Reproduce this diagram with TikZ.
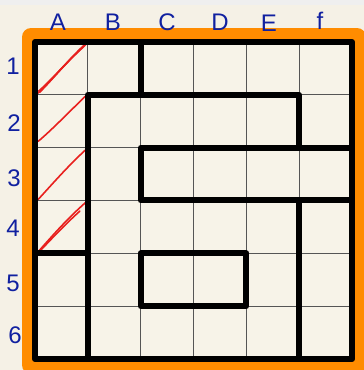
\documentclass[tikz,border=0pt]{standalone}
\usepackage{fontspec}
\setmainfont{Liberation Sans}
\begin{document}
\begin{tikzpicture}[x=1pt,y=-1pt,
  lbl/.style={text=labelblue,font=\fontsize{24}{24}\selectfont,inner sep=0pt},
  thin grid/.style={draw=gridgray,line width=1.1pt},
  wall/.style={draw=black,line width=6pt,line cap=round,line join=round},
  tick/.style={draw=tickred,line width=1.6pt,line cap=round}]
\definecolor{bgcream}{HTML}{F5F1E6}
\definecolor{cellcream}{HTML}{F7F3E8}
\definecolor{framebg}{HTML}{FF8C00}
\definecolor{gridgray}{HTML}{555555}
\definecolor{labelblue}{HTML}{1020A0}
\definecolor{tickred}{HTML}{E8201E}
\definecolor{topstrip}{HTML}{EFEFEF}
\useasboundingbox (0,0) rectangle (364,370);
\fill[bgcream] (0,0) rectangle (364,370);
\fill[topstrip] (0,0) rectangle (364,5);
\fill[framebg,rounded corners=9pt] (22,28) rectangle (366,374);
\begin{scope}[shift={(35,42)},x=52.83pt,y=-52.83pt]
  \fill[cellcream] (0,0) rectangle (6,6);
  \foreach \i in {1,...,5} {
    \draw[thin grid] (\i,0) -- (\i,6);
    \draw[thin grid] (0,\i) -- (6,\i);
  }
  % red ticks in column A
  \draw[tick] (0.05,0.97) .. controls (0.32,0.72) and (0.62,0.35) .. (0.97,0.02);
  \draw[tick] (0.09,0.95) .. controls (0.36,0.68) and (0.64,0.32) .. (0.96,0.05);
  \draw[tick] (0.07,0.93) .. controls (0.33,0.7) and (0.6,0.38) .. (0.93,0.08);
  \draw[tick] (0.06,1.88) .. controls (0.3,1.68) and (0.62,1.35) .. (0.95,1.03);
  \draw[tick] (0.06,2.98) .. controls (0.3,2.72) and (0.62,2.35) .. (0.97,2.03);
  \draw[tick] (0.06,3.97) .. controls (0.3,3.7) and (0.62,3.33) .. (0.99,3.01);
  \draw[tick] (0.09,3.96) .. controls (0.3,3.74) and (0.55,3.47) .. (0.85,3.2);
  % walls
  \draw[wall] (0,0) rectangle (6,6);
  \draw[wall] (2,0) -- (2,1);
  \draw[wall] (1,6) -- (1,1) -- (5,1) -- (5,2);
  \draw[wall] (6,2) -- (2,2) -- (2,3) -- (6,3);
  \draw[wall] (5,3) -- (5,6);
  \draw[wall] (0,4) -- (1,4);
  \draw[wall] (2,4) rectangle (4,5);
\end{scope}
% column labels
\node[lbl] (cA) at (58,22) {A};
\node[lbl] (cB) at (113,22) {B};
\node[lbl] (cC) at (167,22) {C};
\node[lbl] (cD) at (220,22) {D};
\node[lbl] (cE) at (269,23) {E};
\node[lbl] (cF) at (320,21) {f};
% row labels
\node[lbl] (r1) at (13,66) {1};
\node[lbl] (r2) at (14,123) {2};
\node[lbl] (r3) at (14,178) {3};
\node[lbl] (r4) at (13,228) {4};
\node[lbl] (r5) at (13,283) {5};
\node[lbl] (r6) at (15,335) {6};
\end{tikzpicture}
\end{document}
